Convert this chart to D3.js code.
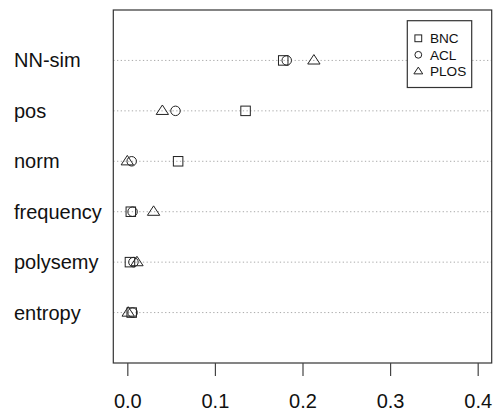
<!DOCTYPE html>
<html><head><meta charset="utf-8">
<script src="https://cdn.jsdelivr.net/npm/d3@7"></script>
<style>body{margin:0;background:#fff}svg{display:block}text{font-family:"Liberation Sans",Arial,sans-serif;fill:#111}</style>
</head><body><div id="chart"></div>
<script>
const categories = ["entropy","polysemy","frequency","norm","pos","NN-sim"];
const seriesNames = ["BNC","ACL","PLOS"];
const bnc  = [0.005, 0.003, 0.004, 0.058, 0.135, 0.178];
const acl  = [0.006, 0.007, 0.006, 0.005, 0.055, 0.182];
const plos = [0.001, 0.011, 0.030, 0.000, 0.040, 0.213];
const xTicks = [0, 0.1, 0.2, 0.3, 0.4];
const xLim = [0, 0.4];

const W = 495, H = 412;
const box = {left: 113.3, right: 491.7, top: 10, bottom: 363};
const ext = (xLim[1]-xLim[0])*0.04;
const x = d3.scaleLinear().domain([xLim[0]-ext, xLim[1]+ext]).range([box.left, box.right]);
const y = d3.scaleLinear().domain([0, categories.length+1]).range([box.bottom, box.top]);

const svg = d3.select("#chart").append("svg").attr("width", W).attr("height", H);

// grid lines
svg.append("g").selectAll("line").data(categories).join("line")
  .attr("x1", box.left).attr("x2", box.right)
  .attr("y1", (d,i)=>y(i+1)).attr("y2", (d,i)=>y(i+1))
  .attr("stroke", "#aaa").attr("stroke-width", 1).attr("stroke-dasharray", "1.3,2.4");

// category labels
svg.append("g").selectAll("text").data(categories).join("text")
  .attr("x", 14).attr("y", (d,i)=>y(i+1)).attr("dy", "0.35em")
  .attr("font-size", "20px").text(d=>d);

// symbols
const symSquare = (g, cx, cy, s) => g.append("rect").attr("x", cx-s/2).attr("y", cy-s/2).attr("width", s).attr("height", s);
const symCircle = (g, cx, cy, s) => g.append("circle").attr("cx", cx).attr("cy", cy).attr("r", s/2);
const symTri = (g, cx, cy, s) => {
  const h = s*0.866*1.15, w = s*1.3;
  g.append("path").attr("d", `M${cx},${cy-h*0.62}L${cx+w/2},${cy+h*0.38}L${cx-w/2},${cy+h*0.38}Z`);
};
const drawers = [symSquare, symCircle, symTri];
const series = [bnc, acl, plos];
const marks = svg.append("g").attr("fill", "none").attr("stroke", "#222").attr("stroke-width", 1);
series.forEach((vals, si) => {
  vals.forEach((v, i) => drawers[si](marks, x(v), y(i+1), 9.5));
});

// plot box
svg.append("rect").attr("x", box.left).attr("y", box.top)
  .attr("width", box.right-box.left).attr("height", box.bottom-box.top)
  .attr("fill", "none").attr("stroke", "#333").attr("stroke-width", 1.2);

// x axis
const ax = svg.append("g").attr("transform", `translate(0,${box.bottom})`)
  .call(d3.axisBottom(x).tickValues(xTicks).tickFormat(d3.format(".1f")).tickSize(13).tickPadding(17.5));
ax.select(".domain").remove();
ax.selectAll(".tick line").attr("stroke", "#444").attr("stroke-width", 1.2);
ax.selectAll(".tick text").attr("font-size", "20px").attr("fill", "#111")
  .attr("font-family", "'Liberation Sans',Arial,sans-serif");

// legend
const lg = svg.append("g").attr("transform", `translate(${box.right-84.4},${box.top+10.7})`);
lg.append("rect").attr("width", 64.4).attr("height", 66.8).attr("fill", "#fff").attr("stroke", "#333").attr("stroke-width", 1.2);
const lgMarks = lg.append("g").attr("fill", "none").attr("stroke", "#222").attr("stroke-width", 1);
seriesNames.forEach((n, i) => {
  const cy = 17.6 + i*16.5;
  drawers[i](lgMarks, 11, cy, 6.8);
  lg.append("text").attr("x", 22.7).attr("y", cy).attr("dy", "0.36em").attr("font-size", "13.6px").text(n);
});
</script></body></html>
